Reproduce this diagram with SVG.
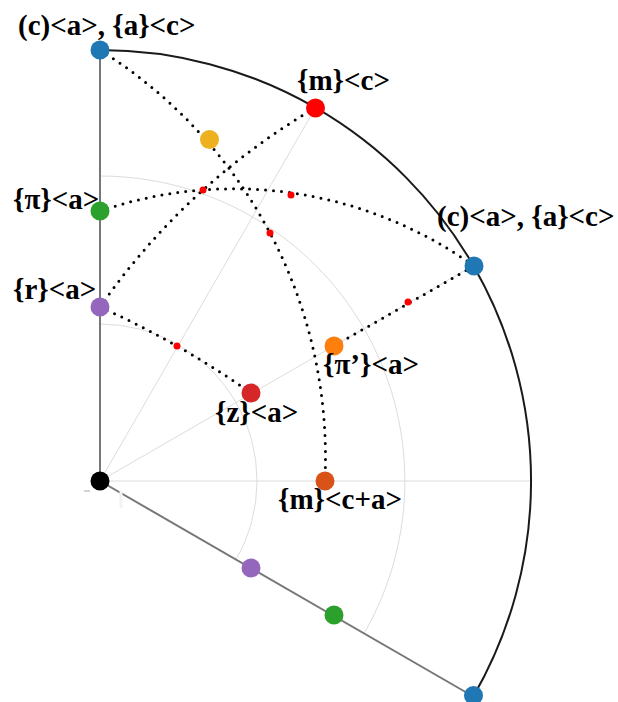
<svg xmlns="http://www.w3.org/2000/svg" width="618" height="702" viewBox="0 0 618 702">
<style>
.grid{fill:none;stroke:#dcdcdc;stroke-width:1}
.axis{fill:none;stroke:#777;stroke-width:2}
.rim{fill:none;stroke:#1a1a1a;stroke-width:2}
.dot{fill:none;stroke:#000;stroke-width:3;stroke-linecap:round;stroke-dasharray:0 8}
.pole{fill:#ff0000}
.lbl{font-family:"Liberation Serif","Times New Roman",serif;font-weight:bold;font-size:29px;fill:#000}
</style>
<rect width="618" height="702" fill="#fff"/>
<g id="grid">
<path class="grid" d="M100,324 A157,157 0 0 1 236,559.5"/>
<path class="grid" d="M100,176 A305,305 0 0 1 364,633.5"/>
<line class="grid" x1="100" y1="481" x2="531" y2="481"/>
<line class="grid" x1="100" y1="481" x2="473.3" y2="265.5"/>
<line class="grid" x1="100" y1="481" x2="315.5" y2="107.7"/>
<line x1="84" y1="491" x2="90" y2="491" stroke="#aaa" stroke-width="1"/>
</g>
<g id="frame">
<line class="axis" x1="100" y1="481" x2="100" y2="50"/>
<line class="axis" x1="100" y1="481" x2="473.3" y2="696.5"/>
<line x1="121" y1="491" x2="121" y2="508" stroke="#f2f2f2" stroke-width="3"/>
<path class="rim" d="M100,50 A431,431 0 0 1 473.3,696.5"/>
</g>
<g id="connectors">
<path class="dot" d="M100,50 A480,480 0 0 1 325,478"/>
<path class="dot" d="M100,211 A413,413 0 0 1 474,266"/>
<path class="dot" d="M100,307 A680.5,680.5 0 0 1 315,108"/>
<path class="dot" d="M100,307 A897,897 0 0 1 251,393"/>
<path class="dot" d="M334,346 L474,266"/>
<circle class="pole" cx="203" cy="190" r="3.5"/>
<circle class="pole" cx="291" cy="195" r="3.5"/>
<circle class="pole" cx="270" cy="233" r="3.5"/>
<circle class="pole" cx="177" cy="346" r="3.5"/>
<circle class="pole" cx="408" cy="302" r="3.5"/>
</g>
<g id="n-top">
<circle cx="100" cy="50" r="9.5" fill="#1f77b4"/>
<text class="lbl" x="18" y="35">(c)&lt;a&gt;, {a}&lt;c&gt;</text>
</g>
<g id="n-mc">
<circle cx="315.5" cy="108" r="9.5" fill="#ff0000"/>
<text class="lbl" x="297" y="90">{m}&lt;c&gt;</text>
</g>
<g id="n-gold">
<circle cx="209.5" cy="139.5" r="9.5" fill="#edb120"/>
</g>
<g id="n-pi">
<circle cx="100" cy="211" r="9.5" fill="#2ca02c"/>
<text class="lbl" x="13" y="209">{π}&lt;a&gt;</text>
</g>
<g id="n-r">
<circle cx="100" cy="307" r="9.5" fill="#9467bd"/>
<text class="lbl" x="13" y="299">{r}&lt;a&gt;</text>
</g>
<g id="n-right">
<circle cx="474" cy="266" r="9.5" fill="#1f77b4"/>
<text class="lbl" x="437" y="226">(c)&lt;a&gt;, {a}&lt;c&gt;</text>
</g>
<g id="n-pip">
<circle cx="334" cy="346" r="9.5" fill="#ff7f0e"/>
<text class="lbl" x="323" y="374">{π’}&lt;a&gt;</text>
</g>
<g id="n-z">
<circle cx="251" cy="393" r="9.5" fill="#d62728"/>
<text class="lbl" x="215" y="422">{z}&lt;a&gt;</text>
</g>
<g id="n-mca">
<circle cx="325" cy="481" r="9.5" fill="#d95319"/>
<text class="lbl" x="278" y="509">{m}&lt;c+a&gt;</text>
</g>
<g id="n-origin">
<circle cx="100" cy="481" r="9.5" fill="#000"/>
</g>
<g id="n-low1">
<circle cx="251" cy="568" r="9.5" fill="#9467bd"/>
</g>
<g id="n-low2">
<circle cx="334" cy="615" r="9.5" fill="#2ca02c"/>
</g>
<g id="n-low3">
<circle cx="473.5" cy="695.5" r="9.5" fill="#1f77b4"/>
</g>
</svg>
